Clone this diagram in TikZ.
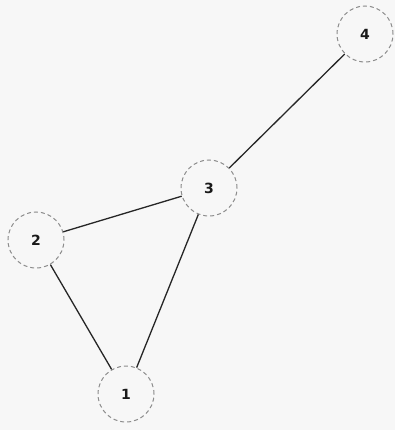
\documentclass[tikz,border=0pt]{standalone}
\usepackage{fontspec}
\setmainfont{DejaVu Sans}
\begin{document}
\begin{tikzpicture}[x=1pt,y=-1pt,
  vert/.style={circle,draw=black!45,dashed,dash pattern=on 4pt off 3pt,line width=1pt,minimum size=56pt,inner sep=0pt,font=\bfseries\fontsize{14}{14}\selectfont,text=black!90},
  edge/.style={line width=1.3pt,black!85}]
\fill[black!3] (0,0) rectangle (395,430);
\useasboundingbox (0,0) rectangle (395,430);
\node[vert] (n4) at (365,34) {4};
\node[vert] (n3) at (209,188) {3};
\node[vert] (n2) at (36,240) {2};
\node[vert] (n1) at (126,394) {1};
\draw[edge] (n1) -- (n2);
\draw[edge] (n1) -- (n3);
\draw[edge] (n2) -- (n3);
\draw[edge] (n3) -- (n4);
\end{tikzpicture}
\end{document}
